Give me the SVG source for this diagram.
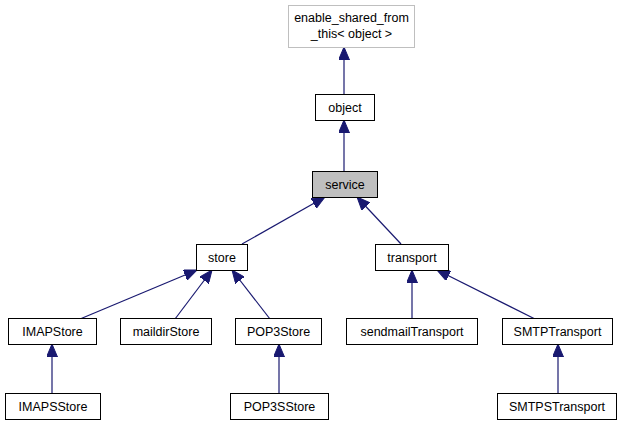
<svg xmlns="http://www.w3.org/2000/svg" width="626" height="425" viewBox="0 0 626 425">
<style>
.n rect{fill:#fff;stroke:#000;stroke-width:1}
.n text{font-family:"Liberation Sans",Arial,sans-serif;font-size:12.5px;text-anchor:middle;fill:#000}
.e line{stroke:#191970;stroke-width:1.2;fill:none}
</style>
<defs>
<marker id="ah" markerWidth="13" markerHeight="11" refX="13" refY="5.5" orient="auto" markerUnits="userSpaceOnUse">
<path d="M0,0 L13,5.5 L0,11 Z" fill="#191970" stroke="#191970"/>
</marker>
</defs>
<rect width="626" height="425" fill="#fff"/>
<g id="edges" class="e">
<line x1="344" y1="94" x2="344" y2="47" marker-end="url(#ah)"/>
<line x1="344" y1="171" x2="344" y2="120" marker-end="url(#ah)"/>
<line x1="242" y1="244" x2="325" y2="197" marker-end="url(#ah)"/>
<line x1="401" y1="244" x2="357" y2="197" marker-end="url(#ah)"/>
<line x1="80" y1="319" x2="197" y2="270" marker-end="url(#ah)"/>
<line x1="175" y1="319" x2="212" y2="270" marker-end="url(#ah)"/>
<line x1="270" y1="319" x2="232" y2="270" marker-end="url(#ah)"/>
<line x1="52" y1="393" x2="52" y2="344" marker-end="url(#ah)"/>
<line x1="279" y1="393" x2="279" y2="344" marker-end="url(#ah)"/>
<line x1="412" y1="319" x2="412" y2="270" marker-end="url(#ah)"/>
<line x1="535" y1="319" x2="437" y2="270" marker-end="url(#ah)"/>
<line x1="558" y1="393" x2="558" y2="344" marker-end="url(#ah)"/>
</g>
<g id="enable_shared_from_this" class="n"><rect x="288.5" y="5.5" width="126" height="42" style="stroke:#bfbfbf"/><text x="351.5" y="22">enable_shared_from</text><text x="351.5" y="38">_this&lt; object &gt;</text></g>
<g id="object" class="n"><rect x="315.5" y="94.5" width="59" height="26"/><text x="345" y="111.5">object</text></g>
<g id="service" class="n"><rect x="312.5" y="171.5" width="65" height="26" style="fill:#bfbfbf"/><text x="345" y="188.5">service</text></g>
<g id="store" class="n"><rect x="196.5" y="244.5" width="51" height="26"/><text x="222" y="261.5">store</text></g>
<g id="transport" class="n"><rect x="375.5" y="244.5" width="73" height="26"/><text x="412" y="261.5">transport</text></g>
<g id="IMAPStore" class="n"><rect x="8.5" y="318.5" width="88" height="26"/><text x="52.5" y="335.5">IMAPStore</text></g>
<g id="maildirStore" class="n"><rect x="120.5" y="318.5" width="91" height="26"/><text x="166" y="335.5">maildirStore</text></g>
<g id="POP3Store" class="n"><rect x="235.5" y="318.5" width="86" height="26"/><text x="278.5" y="335.5">POP3Store</text></g>
<g id="sendmailTransport" class="n"><rect x="346.5" y="318.5" width="131" height="26"/><text x="412" y="335.5">sendmailTransport</text></g>
<g id="SMTPTransport" class="n"><rect x="502.5" y="318.5" width="110" height="26"/><text x="557.5" y="335.5">SMTPTransport</text></g>
<g id="IMAPSStore" class="n"><rect x="5.5" y="393.5" width="95" height="26"/><text x="53" y="410.5">IMAPSStore</text></g>
<g id="POP3SStore" class="n"><rect x="230.5" y="393.5" width="98" height="26"/><text x="279.5" y="410.5">POP3SStore</text></g>
<g id="SMTPSTransport" class="n"><rect x="497.5" y="393.5" width="119" height="26"/><text x="557" y="410.5">SMTPSTransport</text></g>
</svg>
